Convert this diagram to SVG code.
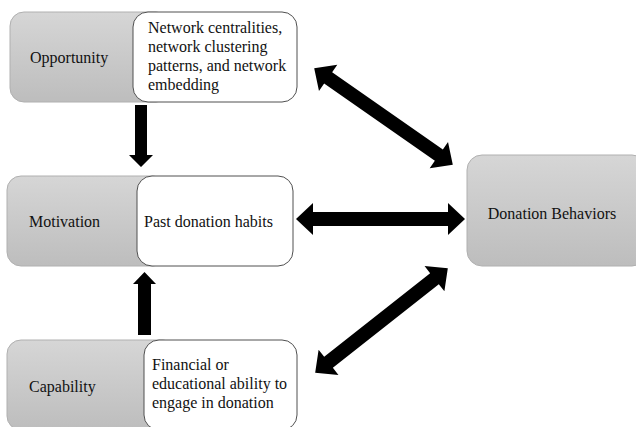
<svg xmlns="http://www.w3.org/2000/svg" width="636" height="427" viewBox="0 0 636 427">
<defs>
<linearGradient id="g" x1="0" y1="0" x2="0" y2="1">
<stop offset="0" stop-color="#d6d6d6"/>
<stop offset="1" stop-color="#bdbdbd"/>
</linearGradient>
<polygon id="dbl" points="-84.5,0 -67.5,-16 -67.5,-7 67.5,-7 67.5,-16 84.5,0 67.5,16 67.5,7 -67.5,7 -67.5,16"/>
</defs>
<style>
.gray{fill:url(#g);stroke:#b0b0b0;stroke-width:1}
.white{fill:#fff;stroke:#505050;stroke-width:1}
text{font-family:"Liberation Serif","Times New Roman",serif;font-size:16px;fill:#111}
.arr{fill:#000}
</style>
<rect width="636" height="427" fill="#fff"/>
<g id="opportunity">
<rect class="gray" x="10" y="12" width="160" height="90" rx="14"/>
<rect class="white" x="133" y="12" width="164" height="90" rx="15"/>
<text x="30" y="63">Opportunity</text>
<text x="148" y="33">Network centralities,</text>
<text x="148" y="52">network clustering</text>
<text x="148" y="71">patterns, and network</text>
<text x="148" y="90">embedding</text>
</g>
<g id="motivation">
<rect class="gray" x="7" y="176" width="160" height="90" rx="14"/>
<rect class="white" x="137" y="176" width="156" height="90" rx="15"/>
<text x="29" y="227">Motivation</text>
<text x="144" y="227">Past donation habits</text>
</g>
<g id="capability">
<rect class="gray" x="7" y="340" width="170" height="90" rx="14"/>
<rect class="white" x="144" y="340" width="153" height="90" rx="15"/>
<text x="29" y="392">Capability</text>
<text x="152" y="370">Financial or</text>
<text x="152" y="389">educational ability to</text>
<text x="152" y="408">engage in donation</text>
</g>
<g id="donation">
<rect class="gray" x="467" y="155" width="180" height="111" rx="15"/>
<text x="552" y="219" text-anchor="middle">Donation Behaviors</text>
</g>
<g id="connectors" class="arr">
<polygon points="135,105 147,105 147,155 153,155 141,167 129,155 135,155"/>
<polygon points="138,335 151,335 151,284 156,284 144.5,272 133,284 138,284"/>
<use href="#dbl" transform="translate(380.5,219)"/>
<use href="#dbl" transform="translate(383.5,116.5) rotate(34.9)"/>
<use href="#dbl" transform="translate(381.5,320.5) rotate(-38.3)"/>
</g>
</svg>
